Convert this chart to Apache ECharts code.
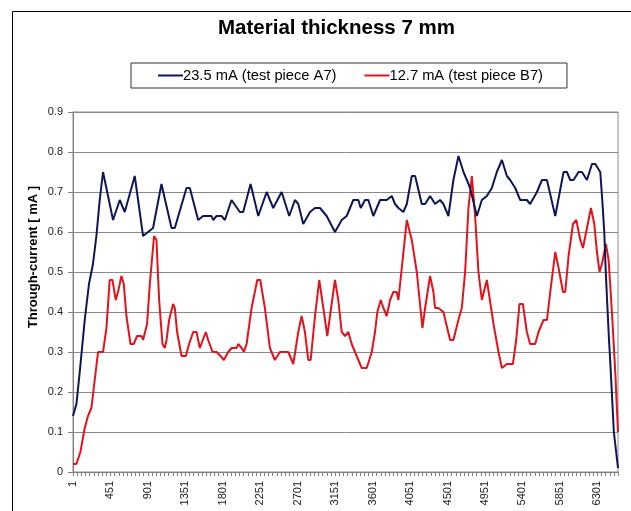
<!DOCTYPE html>
<html>
<head>
<meta charset="utf-8">
<script src="https://cdn.jsdelivr.net/npm/echarts@6/dist/echarts.min.js"></script>
<style>
  html, body { margin: 0; padding: 0; background: #fff; }
  #chart { width: 631px; height: 511px; }
</style>
</head>
<body>
<div id="chart"></div>
<script>
// Sample numbers and through-current readings (mA)
const samplesA = [1, 42, 82, 142, 193, 241, 282, 322, 362, 382,
  482, 563, 623, 743, 843, 903, 963, 1064, 1185, 1224,
  1365, 1405, 1505, 1565, 1666, 1685, 1726, 1786, 1826, 1906,
  2006, 2046, 2135, 2227, 2328, 2407, 2508, 2599, 2668, 2708,
  2768, 2849, 2909, 2969, 3049, 3149, 3230, 3290, 3369, 3430,
  3458, 3510, 3550, 3610, 3691, 3771, 3831, 3871, 3911, 3971,
  4012, 4072, 4112, 4192, 4232, 4292, 4352, 4412, 4452, 4512,
  4572, 4633, 4693, 4734, 4773, 4854, 4914, 4974, 5034, 5094,
  5155, 5215, 5254, 5315, 5375, 5414, 5455, 5494, 5576, 5636,
  5696, 5796, 5896, 5936, 5976, 6016, 6076, 6117, 6177, 6237,
  6277, 6337, 6361, 6385, 6403, 6421, 6442, 6461, 6500, 6550];
const currentA = [0.14, 0.17, 0.25, 0.38, 0.47, 0.52, 0.59, 0.68, 0.75, 0.75,
  0.63, 0.68, 0.65, 0.74, 0.59, 0.60, 0.61, 0.72, 0.61, 0.61,
  0.71, 0.71, 0.63, 0.64, 0.64, 0.63, 0.64, 0.64, 0.63, 0.68,
  0.65, 0.65, 0.72, 0.64, 0.70, 0.66, 0.70, 0.64, 0.68, 0.67,
  0.62, 0.65, 0.66, 0.66, 0.64, 0.60, 0.63, 0.64, 0.68, 0.68,
  0.66, 0.68, 0.68, 0.64, 0.68, 0.68, 0.69, 0.67, 0.66, 0.65,
  0.67, 0.74, 0.74, 0.67, 0.67, 0.69, 0.67, 0.68, 0.67, 0.64,
  0.73, 0.79, 0.75, 0.73, 0.71, 0.64, 0.68, 0.69, 0.71, 0.75,
  0.78, 0.74, 0.73, 0.71, 0.68, 0.68, 0.68, 0.67, 0.70, 0.73,
  0.73, 0.64, 0.75, 0.75, 0.73, 0.73, 0.75, 0.75, 0.73, 0.77,
  0.77, 0.75, 0.68, 0.60, 0.50, 0.42, 0.33, 0.26, 0.10, 0.01];

const samplesB = [1, 42, 90, 142, 181, 222, 262, 302, 362, 403,
  442, 475, 515, 542, 583, 611, 643, 692, 731, 771,
  824, 843, 864, 891, 924, 975, 1004, 1036, 1076, 1104,
  1125, 1156, 1204, 1224, 1252, 1305, 1357, 1396, 1445, 1485,
  1525, 1546, 1597, 1625, 1678, 1726, 1774, 1814, 1866, 1907,
  1967, 1986, 2027, 2055, 2087, 2147, 2215, 2251, 2307, 2367,
  2427, 2488, 2588, 2648, 2668, 2708, 2749, 2788, 2828, 2857,
  2909, 2960, 3009, 3057, 3089, 3149, 3189, 3230, 3270, 3309,
  3350, 3410, 3470, 3531, 3591, 3630, 3658, 3699, 3731, 3771,
  3811, 3851, 3891, 3911, 3952, 4012, 4072, 4132, 4200, 4232,
  4292, 4332, 4352, 4392, 4452, 4532, 4572, 4632, 4673, 4713,
  4753, 4794, 4833, 4873, 4914, 4974, 4993, 5054, 5114, 5155,
  5215, 5287, 5327, 5366, 5407, 5455, 5494, 5555, 5595, 5655,
  5696, 5736, 5796, 5836, 5889, 5916, 5956, 6009, 6049, 6097,
  6129, 6177, 6225, 6265, 6297, 6328, 6357, 6405, 6437, 6477,
  6517, 6550];
const currentB = [0.02, 0.02, 0.05, 0.11, 0.14, 0.16, 0.23, 0.30, 0.30, 0.36,
  0.48, 0.48, 0.43, 0.45, 0.49, 0.47, 0.39, 0.32, 0.32, 0.34,
  0.34, 0.33, 0.33, 0.37, 0.47, 0.59, 0.58, 0.43, 0.32, 0.31,
  0.33, 0.38, 0.42, 0.41, 0.35, 0.29, 0.29, 0.32, 0.35, 0.35,
  0.31, 0.31, 0.35, 0.33, 0.30, 0.30, 0.29, 0.28, 0.30, 0.31,
  0.31, 0.32, 0.31, 0.30, 0.32, 0.41, 0.48, 0.48, 0.41, 0.31,
  0.28, 0.30, 0.30, 0.27, 0.27, 0.35, 0.39, 0.35, 0.28, 0.28,
  0.39, 0.48, 0.41, 0.34, 0.39, 0.48, 0.43, 0.35, 0.34, 0.35,
  0.32, 0.29, 0.26, 0.26, 0.30, 0.35, 0.40, 0.43, 0.41, 0.39,
  0.43, 0.45, 0.45, 0.43, 0.51, 0.63, 0.58, 0.50, 0.36, 0.41,
  0.49, 0.45, 0.41, 0.41, 0.40, 0.33, 0.33, 0.38, 0.41, 0.50,
  0.66, 0.74, 0.64, 0.50, 0.43, 0.48, 0.48, 0.37, 0.30, 0.26,
  0.27, 0.27, 0.33, 0.42, 0.42, 0.35, 0.32, 0.32, 0.35, 0.38,
  0.38, 0.45, 0.55, 0.51, 0.45, 0.45, 0.54, 0.62, 0.63, 0.58,
  0.56, 0.61, 0.66, 0.62, 0.55, 0.50, 0.52, 0.57, 0.53, 0.40,
  0.25, 0.10];

const seriesNames = ['23.5 mA (test piece A7)', '12.7 mA (test piece B7)'];
const xTickLabels = ['1', '451', '901', '1351', '1801', '2251', '2701', '3151',
  '3601', '4051', '4501', '4951', '5401', '5851', '6301'];
const yTickLabels = ['0', '0.1', '0.2', '0.3', '0.4', '0.5', '0.6', '0.7', '0.8', '0.9'];

const FONT = "'Liberation Sans', Arial, sans-serif";
const LAST_SAMPLE = 6550;

// x position on the axis counts from sample 1 at the origin
const toPairs = (xs, ys) => xs.map((s, i) => [s - 1, ys[i]]);

const chart = echarts.init(document.getElementById('chart'), null, { renderer: 'canvas' });

chart.setOption({
  backgroundColor: '#ffffff',
  animation: false,
  title: {
    text: 'Material thickness 7 mm',
    left: 218,
    top: 18,
    padding: 0,
    textStyle: { fontFamily: FONT, fontSize: 20.5, fontWeight: 'bold', color: '#000' }
  },
  legend: {
    left: 131,
    top: 63,
    orient: 'horizontal',
    padding: [5, 24, 5, 27],
    itemGap: 28,
    itemWidth: 25,
    itemHeight: 2,
    icon: 'rect',
    borderColor: '#333',
    borderWidth: 1,
    data: seriesNames,
    textStyle: { fontFamily: FONT, fontSize: 14.7, color: '#000', padding: [0, 0, 0, -5] }
  },
  graphic: [
    {
      type: 'rect',
      shape: { x: 12.5, y: 11.5, width: 700, height: 600 },
      style: { fill: null, stroke: '#000', lineWidth: 1 },
      silent: true
    },
    {
      type: 'text',
      x: 33,
      y: 257,
      rotation: Math.PI / 2,
      style: {
        text: 'Through-current [ mA ]',
        font: 'bold 13px ' + FONT,
        fill: '#000',
        textAlign: 'center',
        textVerticalAlign: 'middle'
      },
      silent: true
    }
  ],
  grid: {
    left: 73,
    top: 112,
    width: 545,
    height: 360,
    show: true,
    borderColor: '#8a8a8a',
    borderWidth: 1,
    containLabel: false
  },
  xAxis: [
    {
      // ticks every 50 samples
      type: 'value',
      min: 0,
      max: LAST_SAMPLE - 1,
      interval: 50,
      position: 'bottom',
      axisLine: { show: true, onZero: false, lineStyle: { color: '#808080', width: 1 } },
      axisTick: { show: true, length: 4, lineStyle: { color: '#808080' } },
      axisLabel: { show: false },
      splitLine: { show: false }
    },
    {
      // labels every 450 samples
      type: 'value',
      min: 0,
      max: LAST_SAMPLE - 1,
      interval: 450,
      position: 'bottom',
      axisLine: { show: false, onZero: false },
      axisTick: { show: false },
      splitLine: { show: false },
      axisLabel: {
        show: true,
        rotate: 90,
        margin: 9,
        showMaxLabel: false,
        fontFamily: FONT,
        fontSize: 11,
        color: '#222',
        formatter: v => xTickLabels[Math.round(v / 450)] || ''
      }
    }
  ],
  yAxis: {
    type: 'value',
    min: 0,
    max: 0.9,
    interval: 0.1,
    axisLine: { show: true, lineStyle: { color: '#808080', width: 1 } },
    axisTick: { show: true, length: 5, lineStyle: { color: '#808080' } },
    axisLabel: {
      margin: 10,
      fontFamily: FONT,
      fontSize: 11,
      color: '#222',
      formatter: v => yTickLabels[Math.round(v * 10)]
    },
    splitLine: { show: true, lineStyle: { color: '#8a8a8a', width: 1 } }
  },
  series: [
    {
      name: seriesNames[0],
      type: 'line',
      xAxisIndex: 0,
      symbol: 'none',
      smooth: false,
      data: toPairs(samplesA, currentA),
      lineStyle: { color: '#0e1656', width: 2 },
      itemStyle: { color: '#0e1656' },
      z: 3
    },
    {
      name: seriesNames[1],
      type: 'line',
      xAxisIndex: 0,
      symbol: 'none',
      smooth: false,
      data: toPairs(samplesB, currentB),
      lineStyle: { color: '#e3131b', width: 2 },
      itemStyle: { color: '#e3131b' },
      z: 2
    }
  ]
});
</script>
</body>
</html>
